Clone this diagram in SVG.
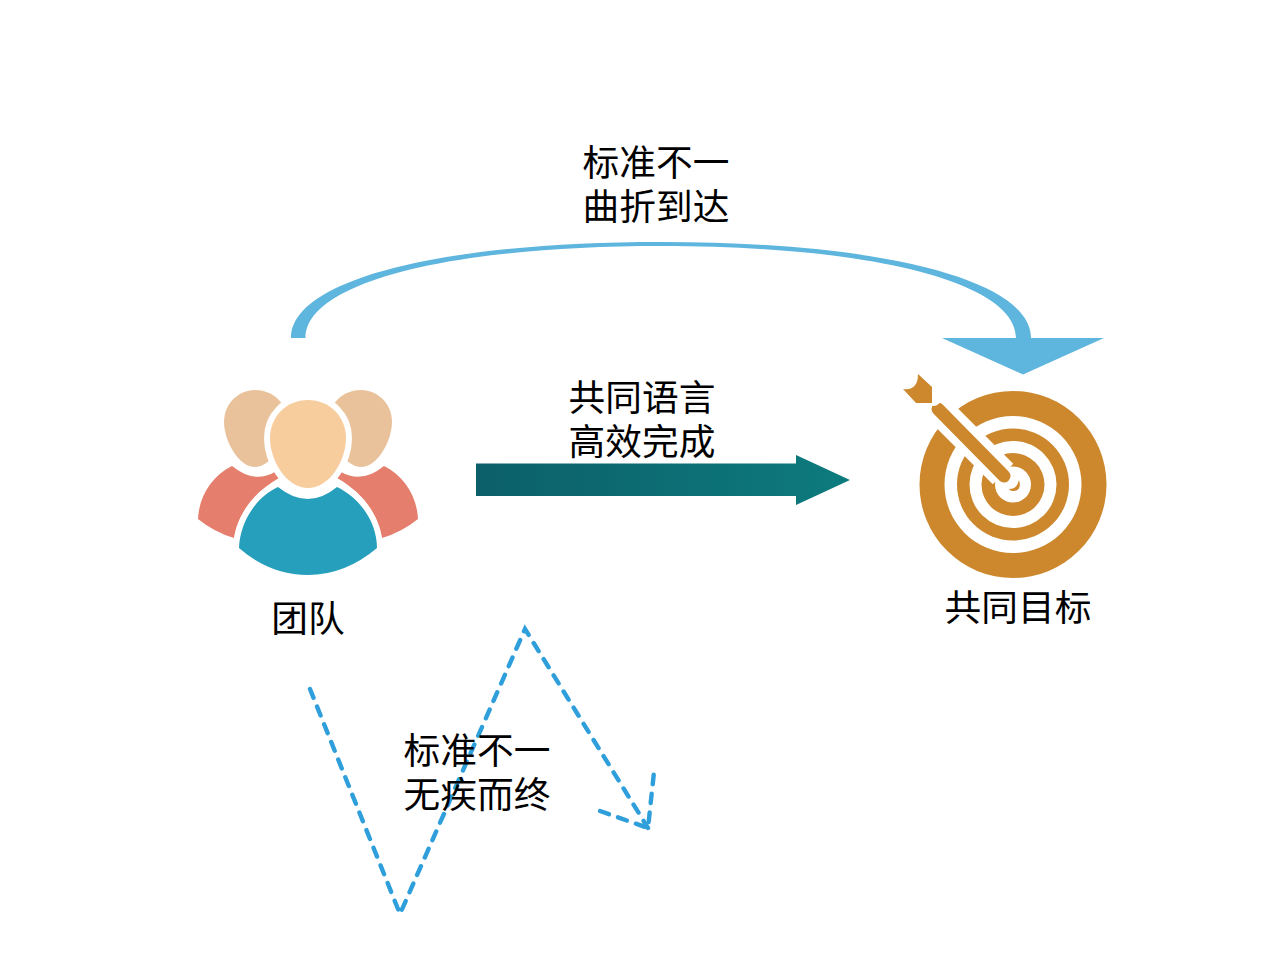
<svg xmlns="http://www.w3.org/2000/svg" width="1263" height="965" viewBox="0 0 1263 965">
<style>
text{font-family:"Noto Sans CJK SC","Noto Sans",sans-serif;font-size:36.7px;fill:#000;text-anchor:middle}
.d{fill:none;stroke:#2f9fdc;stroke-width:4.400;stroke-linecap:round;stroke-dasharray:9.500 9.500}
.o{fill:#cd882d}.w{fill:#fff}
</style>
<defs><linearGradient id="g" x1="0" x2="1" y1="0" y2="0"><stop offset="0" stop-color="#0c5f69"/><stop offset="1" stop-color="#0d7b7e"/></linearGradient></defs>
<rect width="1263" height="965" fill="#fff"/>
<g id="connectors">
<g id="curve">
<path fill="#5eb5dd" d="M291 338C291 280 439 242 661 242C883 242 1031 280 1031 338L1016 338C1016 283 875 246 661 246C447 246 305.500 283 305.500 338Z"/>
<polygon fill="#5eb5dd" points="942,338 1104,338 1023,374.500"/>
</g>
<polygon id="straight" fill="url(#g)" points="476,463.500 796,463.500 796,455 850,480 796,505 796,496 476,496"/>
<g id="zigzag">
<path class="d" d="M310 689L400 914L525 629L648 828"/>
<path class="d" d="M600 811L648 828L654 772"/>
</g>
</g>
<g id="team">
<path fill="#e57e6c" d="M232 466Q254 484 275 472L279 478C256 491 238 512 234 538Q214 532 198 519C199 496 212 476 232 466Z"/>
<path fill="#e57e6c" d="M384 466Q362 484 341 472L337 478C360 491 378 512 382 538Q402 532 418 519C417 496 404 476 384 466Z"/>
<path fill="#e9c29b" d="M255 390C272 390 286 402 286 418C286 440 272 467 255 467C238 467 224 440 224 422C224 404 238 390 255 390Z"/>
<path fill="#e9c29b" d="M361 390C344 390 330 402 330 418C330 440 344 467 361 467C378 467 392 440 392 422C392 404 378 390 361 390Z"/>
<path fill="#f7cd9e" stroke="#fff" stroke-width="12" paint-order="stroke" d="M308 400C330 400 346 417 346 438C346 460 330 488 308 488C286 488 270 460 270 438C270 417 286 400 308 400Z"/>
<path fill="#269fbd" d="M278 487Q308 511 337 487C360 498 377 522 377 548Q345 575 308 575Q270 575 239 548C240 522 256 497 278 487Z"/>
<path fill="none" stroke="#fff" stroke-width="5" d="M278 483C254 494 236 520 235 552M338 483C362 494 380 520 381 552"/>
<text x="308" y="632">团队</text>
</g>
<g id="target">
<circle class="o" cx="1013" cy="484.500" r="93.500"/>
<circle class="w" cx="1013" cy="484.500" r="68.500"/>
<circle class="o" cx="1013" cy="484.500" r="56"/>
<circle class="w" cx="1013" cy="484.500" r="43.500"/>
<circle class="o" cx="1013" cy="484.500" r="31.500"/>
<circle class="w" cx="1013" cy="484.500" r="18"/>
<path fill="none" stroke="#fff" stroke-width="29" d="M925 396L1003 474"/>
<path fill="none" stroke="#cd882d" stroke-width="13" stroke-linecap="round" d="M938 409L1004 476"/>
<path class="w" d="M930 405a8 8 0 0 0 11 -10l-8 0z"/>
<path class="o" d="M1009 489Q1017 489 1019 480Q1022 490 1014 491Q1010 491 1009 489Z"/>
<path class="o" d="M918 374L932 387L932 403L916 403L903 389Q918 391 918 374Z"/>
<text x="1018" y="620.500">共同目标</text>
</g>
<g id="labels">
<text x="656" y="175.500">标准不一</text>
<text x="656" y="220">曲折到达</text>
<text x="642" y="411">共同语言</text>
<text x="642" y="455">高效完成</text>
<text x="477" y="763.500">标准不一</text>
<text x="477" y="808">无疾而终</text>
</g>
</svg>
